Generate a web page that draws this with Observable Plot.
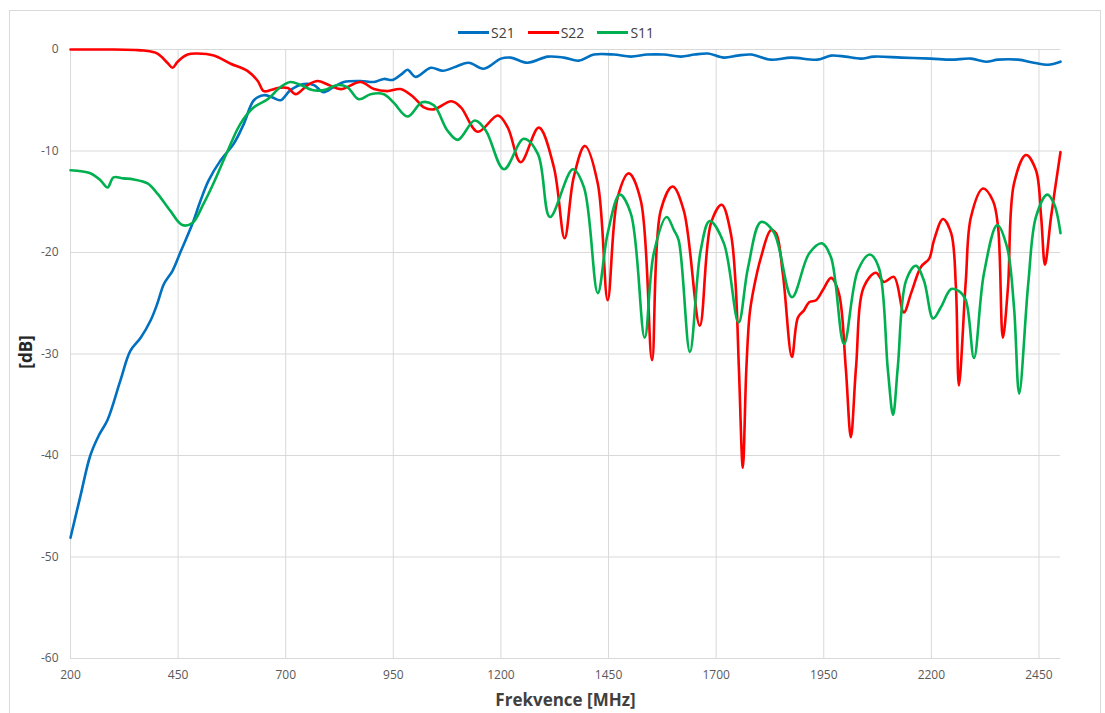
<!DOCTYPE html>
<html>
<head>
<meta charset="utf-8">
<script src="https://cdn.jsdelivr.net/npm/d3@7"></script>
<script src="https://cdn.jsdelivr.net/npm/@observablehq/plot@0.6"></script>
<style>
  html, body { margin: 0; padding: 0; background: #fff; }
  #wrap { position: relative; width: 1105px; height: 713px; overflow: hidden; font-family: "Open Sans", sans-serif; }
  #border { position: absolute; left: 9px; top: 10px; width: 1092px; height: 720px; border: 1px solid #d9d9d9; box-sizing: border-box; }
  #legend { position: absolute; top: 23px; left: 458px; display: flex; align-items: center; font-size: 14px; color: #404040; }
  #legend .item { display: flex; align-items: center; margin-right: 13px; }
  #legend .sw { width: 31px; height: 3px; margin-right: 2px; }
  #chart { position: absolute; left: 0; top: 0; }
</style>
</head>
<body>
<div id="wrap">
  <div id="border"></div>
  <div id="chart"></div>
  <div id="legend"></div>
</div>
<script>
// ---- data ----
const seriesNames = ["S21", "S22", "S11"];
const seriesColors = ["#0070C0", "#FF0000", "#00B050"];
const xTicks = [200, 450, 700, 950, 1200, 1450, 1700, 1950, 2200, 2450];
const yTicks = [0, -10, -20, -30, -40, -50, -60];

const s21Freq = [200,223,246,266,286,316,339,363,386,402,417,437,456,483,502,521,549,579,603,626,649,668,688,711,742,765,788,811,835,874,905,928,948,970,983,1002,1037,1065,1095,1125,1160,1200,1223,1262,1309,1346,1381,1416,1462,1502,1540,1578,1618,1650,1681,1718,1750,1781,1827,1874,1936,1967,2000,2036,2067,2130,2199,2246,2292,2327,2355,2401,2438,2471,2500];
const s21Db   = [-48.1,-44,-40,-38,-36.5,-32.6,-29.7,-28.4,-26.7,-25.0,-23.1,-21.8,-19.9,-17.2,-14.9,-12.9,-10.9,-9.3,-7.3,-5.0,-4.5,-4.7,-5.0,-4.0,-3.4,-3.5,-4.2,-3.7,-3.2,-3.1,-3.2,-2.9,-3.0,-2.4,-2.0,-2.7,-1.8,-2.1,-1.7,-1.3,-1.9,-0.9,-0.8,-1.3,-0.7,-0.8,-1.1,-0.5,-0.5,-0.7,-0.5,-0.5,-0.7,-0.5,-0.4,-0.8,-0.6,-0.5,-1.0,-0.8,-1.0,-0.6,-0.7,-0.9,-0.7,-0.8,-0.9,-1.0,-0.9,-1.2,-1.0,-1.0,-1.3,-1.5,-1.2];

const s22Freq = [200,300,350,370,402,425,437,449,472,495,533,572,611,635,649,665,681,705,723,751,774,800,828,874,905,936,967,997,1021,1044,1085,1107,1146,1193,1216,1246,1288,1323,1348,1369,1395,1425,1448,1471,1497,1525,1551,1571,1599,1625,1662,1688,1713,1734,1745,1753,1762,1770,1778,1788,1804,1827,1839,1855,1876,1890,1904,1916,1932,1948,1967,1985,2001,2013,2025,2043,2071,2090,2113,2136,2153,2176,2195,2206,2227,2246,2257,2264,2280,2292,2320,2343,2355,2366,2378,2392,2420,2443,2455,2464,2478,2500];
const s22Db   = [0,0,-0.05,-0.1,-0.4,-1.3,-1.8,-1.2,-0.5,-0.4,-0.6,-1.4,-2.1,-3.1,-4.1,-4.0,-3.8,-3.8,-4.4,-3.5,-3.1,-3.5,-3.9,-3.2,-3.9,-4.1,-3.9,-4.7,-5.7,-5.9,-5.1,-5.7,-8.1,-6.5,-7.7,-11.1,-7.7,-11.6,-18.6,-12.6,-9.5,-13.2,-24.7,-14.6,-12.2,-14.9,-30.6,-15.9,-13.5,-15.9,-27.2,-17.1,-15.3,-18.1,-23,-31.6,-41.2,-31.6,-26,-23.4,-20.5,-17.8,-18.1,-22.1,-30.3,-26.4,-25.7,-24.9,-24.7,-23.7,-22.5,-24.0,-31.3,-38.2,-31.3,-23.4,-22.0,-22.9,-22.4,-25.9,-24.0,-21.4,-20.6,-18.8,-16.7,-18.1,-23.4,-33.1,-22.8,-16.5,-13.7,-14.9,-17.5,-28.4,-23.4,-13.2,-10.4,-11.9,-16.5,-21.2,-16.5,-10.1];

const s11Freq = [200,246,270,286,300,323,347,379,402,432,460,483,509,532,565,595,626,658,688,711,735,762,788,821,843,870,897,928,950,983,1017,1044,1076,1100,1139,1165,1207,1253,1286,1314,1367,1393,1425,1448,1476,1502,1534,1555,1585,1602,1613,1639,1664,1685,1718,1752,1774,1804,1834,1876,1916,1946,1967,1997,2029,2057,2078,2099,2111,2122,2141,2164,2183,2204,2222,2246,2264,2280,2299,2322,2353,2376,2392,2404,2425,2443,2469,2485,2500];
const s11Db   = [-11.9,-12.2,-12.9,-13.6,-12.6,-12.7,-12.8,-13.2,-14.2,-15.9,-17.3,-17.1,-15.2,-13.2,-10.0,-7.3,-5.7,-4.9,-3.7,-3.2,-3.5,-4.0,-4.0,-3.5,-3.7,-4.9,-4.4,-4.4,-5.2,-6.6,-5.2,-5.5,-8.0,-8.9,-7.0,-8.0,-11.8,-8.8,-10.3,-16.5,-11.8,-13.6,-24.0,-18.1,-14.3,-16.2,-28.4,-20.1,-16.5,-17.8,-18.8,-29.8,-19.8,-16.9,-19.1,-26.9,-21.5,-17.0,-18.0,-24.4,-20.1,-19.1,-20.5,-29.0,-21.8,-20.2,-21.5,-31.6,-36.0,-31.3,-22.8,-21.3,-22.8,-26.5,-25.4,-23.6,-23.8,-24.7,-30.4,-22.1,-17.3,-19.5,-25.4,-33.9,-23.1,-16.5,-14.3,-15.2,-18.1];

// ---- build table ----
const data = [];
[[s21Freq, s21Db], [s22Freq, s22Db], [s11Freq, s11Db]].forEach(([fs, ds], i) => {
  fs.forEach((f, j) => data.push({series: seriesNames[i], f, db: ds[j]}));
});

const chart = Plot.plot({
  width: 1105,
  height: 713,
  marginLeft: 70,
  marginRight: 45,
  marginTop: 49,
  marginBottom: 55,
  style: {fontFamily: "'Open Sans', sans-serif", fontSize: "12px", color: "#595959", background: "transparent", overflow: "visible"},
  x: {domain: [200, 2500]},
  y: {domain: [-60, 0]},
  color: {domain: seriesNames, range: seriesColors},
  marks: [
    Plot.gridY(yTicks, {stroke: "#d9d9d9", strokeOpacity: 1}),
    Plot.gridX(xTicks, {stroke: "#d9d9d9", strokeOpacity: 1}),
    Plot.axisX(xTicks, {tickSize: 0, tickPadding: 12, label: null, tickFormat: d => String(d), fill: "#595959"}),
    Plot.axisY(yTicks, {tickSize: 0, tickPadding: 12, label: null, tickFormat: d => String(d), fill: "#595959"}),
    Plot.line(data, {x: "f", y: "db", z: "series", stroke: "series", curve: "catmull-rom", strokeWidth: 2.6}),
    Plot.text(["Frekvence [MHz]"], {frameAnchor: "bottom", dy: 42, textAnchor: "middle", lineAnchor: "middle", fontSize: 17, fontWeight: "bold", fill: "#404040"}),
    Plot.text(["[dB]"], {frameAnchor: "left", dx: -44, dy: -2, rotate: -90, textAnchor: "middle", lineAnchor: "middle", fontSize: 17, fontWeight: "bold", fill: "#262626"})
  ]
});
document.getElementById("chart").appendChild(chart);

const legend = document.getElementById("legend");
seriesNames.forEach((name, i) => {
  const item = document.createElement("div");
  item.className = "item";
  const sw = document.createElement("span");
  sw.className = "sw";
  sw.style.background = seriesColors[i];
  const t = document.createElement("span");
  t.textContent = name;
  item.appendChild(sw);
  item.appendChild(t);
  legend.appendChild(item);
});
</script>
</body>
</html>
